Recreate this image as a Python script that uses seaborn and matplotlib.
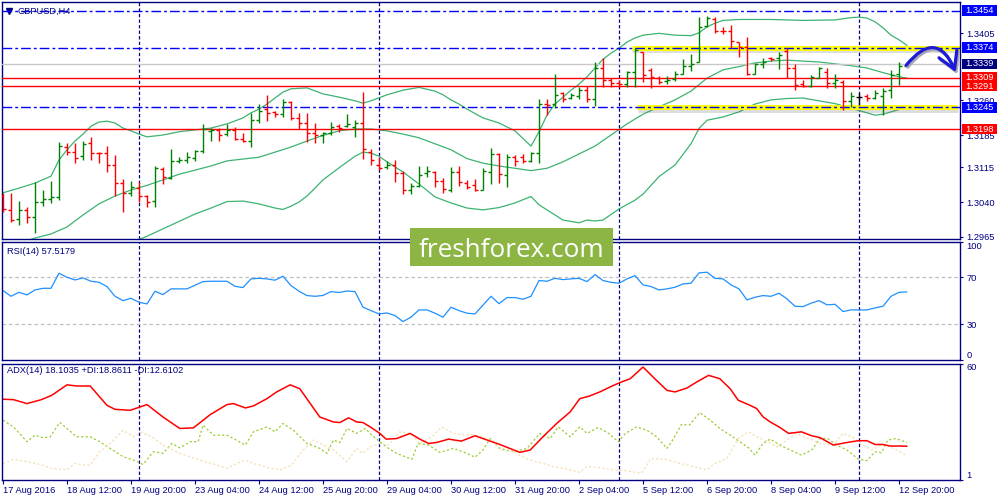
import matplotlib
matplotlib.use("Agg")
import matplotlib.pyplot as plt
import matplotlib.patheffects as pe
import matplotlib.transforms as mtransforms
from matplotlib.patches import FancyArrowPatch, Rectangle
import numpy as np
import pandas as pd
import seaborn as sns

# GBPUSD H4 bars, 17 Aug 2016 04:00 .. 13 Sep 2016 00:00
opens = [1.3052, 1.3023, 1.3003, 1.3023, 1.3008, 1.3041, 1.3047, 1.3050, 1.3160, 1.3149,
         1.3140, 1.3168, 1.3147, 1.3147, 1.3120, 1.3082, 1.3060, 1.3070, 1.3052, 1.3042,
         1.3111, 1.3093, 1.3128, 1.3132, 1.3135, 1.3151, 1.3194, 1.3196, 1.3187, 1.3196,
         1.3176, 1.3172, 1.3217, 1.3241, 1.3234, 1.3230, 1.3257, 1.3222, 1.3212, 1.3189,
         1.3185, 1.3190, 1.3204, 1.3205, 1.3203, 1.3210, 1.3149, 1.3120, 1.3115, 1.3120,
         1.3102, 1.3066, 1.3075, 1.3102, 1.3104, 1.3086, 1.3066, 1.3105, 1.3082, 1.3077,
         1.3066, 1.3104, 1.3144, 1.3099, 1.3138, 1.3138, 1.3129, 1.3145, 1.3253, 1.3252,
         1.3275, 1.3266, 1.3269, 1.3282, 1.3264, 1.3329, 1.3305, 1.3298, 1.3295, 1.3322,
         1.3364, 1.3326, 1.3309, 1.3302, 1.3306, 1.3318, 1.3335, 1.3344, 1.3421, 1.3437,
         1.3410, 1.3410, 1.3386, 1.3376, 1.3318, 1.3338, 1.3352, 1.3351, 1.3367, 1.3331,
         1.3295, 1.3292, 1.3309, 1.3322, 1.3297, 1.3300, 1.3259, 1.3267, 1.3269, 1.3266,
         1.3269, 1.3282, 1.3317, 1.3335]
highs = [1.3060, 1.3059, 1.3042, 1.3030, 1.3084, 1.3066, 1.3086, 1.3170, 1.3167, 1.3168,
         1.3173, 1.3180, 1.3149, 1.3161, 1.3142, 1.3089, 1.3086, 1.3084, 1.3055, 1.3119,
         1.3115, 1.3155, 1.3138, 1.3148, 1.3153, 1.3209, 1.3200, 1.3200, 1.3209, 1.3202,
         1.3190, 1.3233, 1.3252, 1.3272, 1.3237, 1.3263, 1.3259, 1.3232, 1.3232, 1.3211,
         1.3191, 1.3213, 1.3208, 1.3231, 1.3217, 1.3277, 1.3154, 1.3138, 1.3129, 1.3131,
         1.3108, 1.3082, 1.3118, 1.3118, 1.3108, 1.3093, 1.3116, 1.3118, 1.3088, 1.3090,
         1.3114, 1.3157, 1.3145, 1.3143, 1.3142, 1.3144, 1.3149, 1.3264, 1.3262, 1.3318,
         1.3279, 1.3275, 1.3289, 1.3291, 1.3344, 1.3351, 1.3308, 1.3304, 1.3323, 1.3374,
         1.3365, 1.3331, 1.3313, 1.3313, 1.3323, 1.3349, 1.3360, 1.3441, 1.3443, 1.3441,
         1.3419, 1.3422, 1.3387, 1.3398, 1.3340, 1.3351, 1.3354, 1.3364, 1.3373, 1.3339,
         1.3304, 1.3314, 1.3333, 1.3329, 1.3317, 1.3305, 1.3278, 1.3276, 1.3274, 1.3282,
         1.3286, 1.3326, 1.3344, 1.3343]
lows = [1.3019, 1.2997, 1.2990, 1.2995, 1.2974, 1.3031, 1.3037, 1.3044, 1.3142, 1.3124,
        1.3132, 1.3132, 1.3125, 1.3106, 1.3052, 1.3019, 1.3054, 1.3039, 1.3030, 1.3030,
        1.3079, 1.3089, 1.3125, 1.3125, 1.3129, 1.3146, 1.3173, 1.3173, 1.3183, 1.3174,
        1.3170, 1.3159, 1.3211, 1.3216, 1.3225, 1.3225, 1.3217, 1.3197, 1.3170, 1.3167,
        1.3167, 1.3185, 1.3192, 1.3202, 1.3180, 1.3133, 1.3120, 1.3109, 1.3111, 1.3083,
        1.3057, 1.3057, 1.3073, 1.3095, 1.3073, 1.3059, 1.3062, 1.3075, 1.3068, 1.3064,
        1.3065, 1.3079, 1.3081, 1.3073, 1.3119, 1.3125, 1.3126, 1.3125, 1.3228, 1.3243,
        1.3257, 1.3262, 1.3264, 1.3257, 1.3248, 1.3289, 1.3289, 1.3289, 1.3289, 1.3289,
        1.3300, 1.3287, 1.3295, 1.3295, 1.3302, 1.3316, 1.3324, 1.3342, 1.3418, 1.3405,
        1.3403, 1.3374, 1.3354, 1.3315, 1.3316, 1.3331, 1.3345, 1.3327, 1.3309, 1.3282,
        1.3289, 1.3289, 1.3308, 1.3286, 1.3287, 1.3239, 1.3245, 1.3250, 1.3259, 1.3262,
        1.3228, 1.3265, 1.3294, 1.3334]
closes = [1.3025, 1.3001, 1.3023, 1.3008, 1.3041, 1.3047, 1.3050, 1.3161, 1.3149, 1.3135,
          1.3165, 1.3147, 1.3145, 1.3120, 1.3082, 1.3060, 1.3072, 1.3052, 1.3041, 1.3114,
          1.3095, 1.3128, 1.3132, 1.3137, 1.3151, 1.3197, 1.3196, 1.3185, 1.3196, 1.3176,
          1.3172, 1.3217, 1.3238, 1.3233, 1.3230, 1.3257, 1.3222, 1.3212, 1.3190, 1.3185,
          1.3190, 1.3202, 1.3200, 1.3208, 1.3210, 1.3155, 1.3131, 1.3113, 1.3120, 1.3102,
          1.3066, 1.3075, 1.3099, 1.3108, 1.3086, 1.3068, 1.3105, 1.3083, 1.3073, 1.3066,
          1.3107, 1.3144, 1.3101, 1.3137, 1.3129, 1.3129, 1.3145, 1.3253, 1.3251, 1.3271,
          1.3264, 1.3271, 1.3282, 1.3264, 1.3329, 1.3305, 1.3297, 1.3295, 1.3322, 1.3369,
          1.3315, 1.3311, 1.3300, 1.3304, 1.3318, 1.3335, 1.3338, 1.3419, 1.3439, 1.3409,
          1.3409, 1.3388, 1.3376, 1.3316, 1.3338, 1.3344, 1.3349, 1.3358, 1.3331, 1.3293,
          1.3292, 1.3311, 1.3329, 1.3297, 1.3304, 1.3259, 1.3269, 1.3267, 1.3266, 1.3275,
          1.3280, 1.3315, 1.3335, 1.3339]

date_labels = ["17 Aug 2016", "18 Aug 12:00", "19 Aug 20:00", "23 Aug 04:00", "24 Aug 12:00",
               "25 Aug 20:00", "29 Aug 04:00", "30 Aug 12:00", "31 Aug 20:00", "2 Sep 04:00",
               "5 Sep 12:00", "6 Sep 20:00", "8 Sep 04:00", "9 Sep 12:00", "12 Sep 20:00"]
date_positions = [0, 8, 16, 24, 32, 40, 48, 56, 64, 72, 80, 88, 96, 104, 112]
week_starts = [17, 47, 77, 107]

# Bollinger bands (20)
upper_idx = [0, 2, 4, 6, 7, 8, 9, 10, 11, 12, 13, 14, 15, 16, 17, 18, 20, 22, 24, 26, 28, 30, 31,
             32, 33, 34, 35, 36, 38, 40, 42, 44, 45, 46, 48, 50, 52, 54, 55, 56, 57, 58, 60, 62,
             64, 66, 67, 68, 69, 70, 71, 72, 73, 74, 75, 76, 77, 78, 79, 80, 82, 84, 86, 87, 88,
             89, 90, 92, 96, 100, 104, 106, 107, 108, 109, 110, 111, 112, 113]
upper_val = [1.3060, 1.3070, 1.3081, 1.3096, 1.3131, 1.3153, 1.3172, 1.3187, 1.3204, 1.3213,
             1.3215, 1.3211, 1.3200, 1.3194, 1.3187, 1.3181, 1.3185, 1.3192, 1.3196, 1.3200,
             1.3209, 1.3222, 1.3233, 1.3241, 1.3252, 1.3265, 1.3278, 1.3285, 1.3287, 1.3274,
             1.3267, 1.3259, 1.3254, 1.3259, 1.3272, 1.3282, 1.3288, 1.3280, 1.3272, 1.3261,
             1.3252, 1.3241, 1.3222, 1.3211, 1.3194, 1.3161, 1.3192, 1.3228, 1.3252, 1.3267,
             1.3282, 1.3295, 1.3311, 1.3330, 1.3349, 1.3362, 1.3373, 1.3386, 1.3395, 1.3401,
             1.3405, 1.3401, 1.3400, 1.3406, 1.3419, 1.3427, 1.3433, 1.3435, 1.3435, 1.3433,
             1.3434, 1.3439, 1.3440, 1.3438, 1.3430, 1.3417, 1.3401, 1.3391, 1.3379]
mid_idx = [0, 2, 4, 6, 8, 10, 12, 14, 16, 18, 20, 22, 24, 26, 28, 30, 32, 34, 36, 38, 40, 42, 44,
           46, 48, 50, 52, 54, 56, 58, 60, 62, 64, 66, 68, 70, 72, 74, 76, 78, 80, 82, 84, 86, 88,
           90, 92, 94, 96, 98, 100, 102, 104, 106, 108, 110, 112, 113]
mid_val = [1.2943, 1.2951, 1.2962, 1.2971, 1.2986, 1.3012, 1.3036, 1.3053, 1.3066, 1.3076,
           1.3088, 1.3100, 1.3109, 1.3118, 1.3129, 1.3133, 1.3137, 1.3148, 1.3159, 1.3172,
           1.3184, 1.3194, 1.3198, 1.3198, 1.3194, 1.3187, 1.3179, 1.3166, 1.3153, 1.3134,
           1.3124, 1.3118, 1.3113, 1.3108, 1.3113, 1.3127, 1.3144, 1.3161, 1.3185, 1.3209,
           1.3230, 1.3246, 1.3261, 1.3280, 1.3308, 1.3326, 1.3333, 1.3341, 1.3345, 1.3347,
           1.3345, 1.3343, 1.3339, 1.3335, 1.3330, 1.3320, 1.3311, 1.3308]
lower_idx = [0, 4, 8, 12, 14, 16, 17, 18, 20, 22, 24, 26, 28, 30, 32, 34, 35, 36, 37, 38, 39, 40,
             42, 44, 45, 46, 47, 48, 50, 52, 54, 56, 58, 60, 62, 64, 66, 67, 68, 70, 72, 73, 74,
             75, 77, 79, 80, 82, 84, 86, 87, 88, 90, 92, 94, 96, 98, 100, 102, 104, 106, 108,
             109, 110, 111, 113]
lower_val = [1.2828, 1.2828, 1.2822, 1.2863, 1.2897, 1.2941, 1.2959, 1.2966, 1.2982, 1.2998,
             1.3014, 1.3027, 1.3041, 1.3042, 1.3036, 1.3027, 1.3024, 1.3031, 1.3040, 1.3053,
             1.3070, 1.3088, 1.3114, 1.3139, 1.3148, 1.3146, 1.3139, 1.3127, 1.3105, 1.3079,
             1.3051, 1.3038, 1.3027, 1.3023, 1.3028, 1.3038, 1.3052, 1.3034, 1.3023, 1.3001,
             1.2995, 1.3001, 1.2999, 1.3001, 1.3025, 1.3044, 1.3057, 1.3095, 1.3120, 1.3166,
             1.3199, 1.3217, 1.3224, 1.3235, 1.3252, 1.3261, 1.3264, 1.3265, 1.3259, 1.3253,
             1.3243, 1.3233, 1.3228, 1.3230, 1.3235, 1.3245]

blue_levels = [1.3454, 1.3374, 1.3245]
red_levels = [1.3309, 1.3291, 1.3198]
bid_price = 1.3339
price_ticks = [1.3405, 1.3260, 1.3185, 1.3115, 1.3040, 1.2965]

# marked zones and the drawn arrow
zone_levels = [1.3374, 1.3245]
zone_start = [78.6, 79.25]
zone_end = [119.7, 119.25]
arrow_tail = (112.9, 1.3336)
arrow_head = (119.1, 1.3321)

# RSI(14)
rsi_idx = [0, 1, 2, 3, 4, 5, 6, 7, 8, 9, 10, 11, 12, 13, 14, 15, 16, 17, 18, 19, 20, 21, 23, 25,
           26, 28, 29, 30, 31, 32, 33, 34, 35, 36, 37, 38, 39, 40, 41, 42, 43, 44, 45, 46, 47,
           48, 49, 50, 51, 52, 53, 54, 55, 56, 57, 58, 59, 61, 62, 63, 64, 65, 66, 67, 68, 69,
           70, 71, 72, 73, 74, 75, 76, 77, 78, 79, 80, 81, 82, 83, 84, 85, 86, 87, 88, 89, 90,
           91, 92, 93, 94, 95, 96, 97, 98, 99, 100, 101, 102, 103, 104, 105, 106, 107, 108,
           109, 110, 111, 112, 113]
rsi_val = [58.7, 53.8, 57.2, 55.0, 59.2, 60.6, 60.6, 73.4, 70.0, 67.7, 69.4, 66.6, 65.7, 62.1,
           53.8, 50.1, 52.1, 48.7, 47.3, 58.1, 55.2, 60.1, 60.1, 66.3, 66.6, 66.6, 62.3, 61.2,
           68.6, 69.1, 68.6, 67.5, 70.9, 62.9, 58.1, 54.4, 53.8, 54.5, 57.8, 57.0, 58.3, 57.8,
           44.5, 41.6, 38.8, 39.6, 37.4, 32.3, 36.0, 42.2, 42.2, 39.4, 36.0, 44.5, 41.6, 39.4,
           38.8, 53.8, 47.5, 52.7, 52.7, 51.3, 53.8, 67.2, 66.6, 69.1, 68.0, 68.6, 69.1, 66.3,
           72.3, 67.2, 65.7, 64.9, 68.6, 71.4, 63.5, 62.1, 59.2, 60.1, 61.5, 64.3, 64.9, 73.7,
           74.3, 69.1, 68.6, 63.5, 60.1, 50.7, 53.0, 54.4, 53.8, 56.4, 51.6, 45.3, 45.0, 47.9,
           50.1, 46.5, 47.0, 40.8, 42.2, 42.2, 42.2, 43.9, 45.3, 53.8, 57.2, 57.5]

# ADX(14) with +DI / -DI
adx_idx = [0, 1.3, 3, 4.8, 6.1, 8, 9.2, 10.9, 13, 14, 15.9, 18, 20, 22.1, 23.8, 25.9, 28, 28.8,
           30.3, 31.3, 33, 34.2, 35.9, 37.1, 39.6, 41.3, 42.1, 43.2, 44.2, 45, 45.9, 47.1, 47.9,
           49.2, 50.9, 52.1, 53.2, 54.2, 55.7, 57.3, 59, 60.9, 62.1, 64.6, 65.9, 67.5, 69.2,
           70.9, 72.1, 73.3, 74.6, 76.3, 77.1, 78.4, 80, 81.7, 83, 84, 85.5, 86.7, 88.2, 89.6,
           90.9, 91.9, 93.4, 94.2, 95, 95.9, 97, 98.2, 99.8, 101.1, 102.1, 103.8, 105.5, 106.9,
           108, 109, 110, 110.9, 112.1, 113]
adx_val = [41.9, 41.7, 39.7, 41.7, 43.9, 49.2, 48.6, 48.6, 38.8, 36.8, 36.3, 39.2, 32.9, 27.1,
           27.4, 34.1, 39.2, 39.7, 37.5, 38.5, 42.2, 45.6, 49.2, 47.2, 32.9, 30.4, 30.1, 32.5,
           30.4, 30.1, 27.9, 24.6, 21.7, 22.0, 24.6, 21.7, 19.5, 20.0, 21.7, 20.7, 23.4, 20.7,
           19.0, 15.0, 16.2, 22.9, 29.6, 35.5, 42.2, 43.5, 45.6, 48.9, 50.3, 52.3, 58.2, 51.4,
           46.4, 45.6, 47.6, 50.6, 54.0, 52.3, 47.2, 41.4, 38.8, 37.2, 33.0, 30.4, 27.9, 24.6,
           25.4, 23.4, 22.5, 18.7, 20.0, 20.9, 20.9, 19.0, 19.0, 18.2, 18.2, 18.1]
pdi_idx = [0, 1.3, 3, 4, 5, 5.9, 7.1, 8, 9.2, 10.9, 12.1, 13.4, 15, 16.3, 17.5, 18.8, 20, 21.1,
           22.1, 23.4, 24.4, 25, 26.3, 28, 28.8, 30.3, 31.3, 33, 34, 35, 36.3, 38, 39.6, 40.5,
           41.3, 42.1, 43, 44.2, 45.3, 46.1, 47.1, 48.2, 49.2, 51.1, 51.9, 53.2, 54.6, 56.3, 58,
           59, 60, 60.9, 62.1, 63.8, 65.5, 67.1, 68.4, 69.4, 70.9, 72.1, 73, 74.4, 75.7, 76.9,
           77.8, 79.2, 80.5, 81.7, 83, 83.7, 84.8, 85.8, 87.1, 88.4, 89.6, 90.9, 92.1, 93.2, 94,
           95, 95.9, 97.1, 98.4, 99.8, 101.1, 102.1, 103.1, 104.2, 105.5, 106.9, 108, 109,
           109.8, 110.6, 111.6, 113]
pdi_val = [31.3, 27.9, 20.4, 23.7, 22.4, 22.9, 30.1, 27.1, 22.9, 22.9, 20.4, 17.0, 12.8, 11.1,
           8.9, 15.3, 14.5, 19.5, 17.3, 20.4, 20.4, 28.8, 23.7, 23.7, 22.0, 18.7, 25.4, 27.9,
           25.4, 29.6, 26.2, 19.5, 17.0, 14.5, 21.2, 20.0, 27.1, 24.6, 27.1, 23.7, 20.4, 17.0,
           14.5, 11.5, 19.5, 18.7, 15.0, 17.0, 14.5, 12.5, 16.2, 22.0, 17.0, 15.3, 17.0, 24.6,
           22.0, 27.9, 22.9, 27.9, 24.6, 27.6, 24.6, 20.4, 24.6, 27.9, 26.2, 22.9, 17.0, 21.2,
           29.1, 28.8, 35.1, 31.3, 27.1, 23.7, 20.4, 17.3, 13.6, 19.5, 21.7, 18.7, 16.2, 13.6,
           16.2, 22.0, 22.0, 18.7, 16.2, 11.6, 10.8, 15.3, 14.8, 21.2, 22.0, 20.0]
mdi_idx = [0, 1.3, 3, 4.6, 6.1, 8, 9, 10, 10.9, 12.1, 13.4, 15, 16.3, 17.3, 18.6, 20, 22.1, 24.6,
           26.7, 28, 29.2, 30.3, 31.3, 33.4, 34.6, 36.1, 37.3, 38.8, 41.3, 43, 44.2, 45, 45.9,
           47.1, 48.2, 49.6, 50.9, 52.1, 53.8, 54.8, 56.3, 58, 58.8, 59.8, 61.3, 62.1, 63.8,
           65.5, 67.1, 68.8, 70.5, 72.1, 73, 74.6, 76.3, 78, 79.8, 81, 82.9, 84.6, 86.3, 88, 89,
           90.5, 91.9, 93.2, 94.2, 95.5, 96.7, 98, 99.2, 100.7, 102.1, 103.8, 105, 106.3, 107.5,
           108.6, 109.8, 110.9, 112.1, 113]
mdi_val = [9.4, 11.5, 10.3, 8.9, 6.9, 6.1, 9.4, 8.6, 8.6, 15.3, 19.5, 26.2, 22.9, 25.1, 22.9,
           18.7, 14.5, 11.1, 8.6, 6.9, 9.4, 11.1, 9.4, 6.9, 6.1, 8.6, 15.3, 21.2, 16.2, 10.3,
           17.0, 14.5, 17.8, 19.5, 18.7, 25.4, 24.6, 19.5, 23.4, 27.9, 24.6, 23.7, 24.0, 22.9,
           20.4, 16.2, 15.3, 11.6, 9.9, 7.8, 6.6, 4.9, 7.8, 7.3, 6.1, 5.6, 4.4, 11.9, 11.4, 9.4,
           7.8, 6.1, 9.4, 11.9, 22.0, 25.4, 22.9, 20.7, 17.8, 21.2, 24.6, 22.0, 19.5, 18.7, 24.6,
           22.4, 18.7, 16.2, 18.7, 17.8, 15.3, 13.3]

NAVY = "#000080"
GREEN = "#008000"
RED = "#ff0000"
BLUE = "#0000ff"
BAND = "#3cb371"
FS = 6.7

sns.set_theme(style="white")
plt.rcParams["font.family"] = ["Liberation Sans", "DejaVu Sans"]
plt.rcParams["lines.scale_dashes"] = False

W, H = 1000, 500
fig = plt.figure(figsize=(10, 5), dpi=100, facecolor="white")


def panel(top, bottom):
    return fig.add_axes([2 / W, 1 - bottom / H, 958 / W, (bottom - top) / H])


ax = panel(2, 239)
ax_rsi = panel(242, 359.5)
ax_adx = panel(363.5, 480)

for a in (ax, ax_rsi, ax_adx):
    a.set_facecolor("white")
    a.set_xlim(-0.125, 119.625)
    for s in a.spines.values():
        s.set_color(NAVY)
        s.set_linewidth(1)
    a.yaxis.tick_right()
    a.tick_params(axis="y", left=False, right=True, direction="out", length=2.5, width=0.8,
                  color=NAVY, labelcolor=NAVY, labelsize=FS, pad=2)
    a.tick_params(axis="x", bottom=False, labelbottom=False)
    for w in week_starts:
        a.axvline(w, color=NAVY, lw=0.9, dashes=(2.4, 1.6), zorder=1)

# ---- price panel ----
ax.set_ylim(1.29600, 1.34728)
for xs, ys in ((upper_idx, upper_val), (mid_idx, mid_val), (lower_idx, lower_val)):
    sns.lineplot(x=xs, y=ys, ax=ax, color=BAND, lw=0.9, estimator=None, sort=False, zorder=2)

for lvl, x0, x1 in zip(zone_levels, zone_start, zone_end):
    ax.plot([x0, x1], [lvl, lvl], color="#ffff00", lw=3.6, solid_capstyle="butt", zorder=2.5,
            path_effects=[pe.SimpleLineShadow(offset=(0.5, -1.8), shadow_color="#666666", alpha=0.22),
                          pe.Normal()])

ax.axhline(bid_price, color="#c8c8c8", lw=1, zorder=2.6)
for lvl in red_levels:
    ax.axhline(lvl, color=RED, lw=1, zorder=3)
for lvl in blue_levels:
    ax.axhline(lvl, color=BLUE, lw=1, dashes=(7, 2.2, 2, 2.2), zorder=3)

bars = pd.DataFrame({"o": opens, "h": highs, "l": lows, "c": closes})
bars["i"] = np.arange(len(bars))
colors = np.where(bars.c > bars.o, GREEN, np.where(bars.c < bars.o, RED, "black"))
ax.vlines(bars.i, bars.l, bars.h, colors=colors, lw=1.0, zorder=4)
ax.hlines(bars.o, bars.i - 0.38, bars.i, colors=colors, lw=1.0, zorder=4)
ax.hlines(bars.c, bars.i, bars.i + 0.38, colors=colors, lw=1.0, zorder=4)

ax.set_yticks(price_ticks)
ax.set_yticklabels([f"{p:.4f}" for p in price_ticks])
ax.set_xlabel("")
ax.set_ylabel("")

# price tags on the scale
trans = mtransforms.blended_transform_factory(ax.transAxes, ax.transData)
box_h = 10.5 * (1.34728 - 1.29600) / 237
tags = [(l, RED) for l in red_levels] + [(l, BLUE) for l in blue_levels] + [(bid_price, NAVY)]
for price, fc in tags:
    ax.add_patch(Rectangle((1.0021, price - box_h / 2), 0.0366, box_h, transform=trans,
                           fc=fc, ec=fc, lw=0, clip_on=False, zorder=8))
    ax.text(1.0050, price, f"{price:.4f}", transform=trans, color="white", fontsize=FS,
            va="center", ha="left", clip_on=False, zorder=9)

ax.plot([0.0073], [0.962], marker="v", ms=4, color=NAVY, transform=ax.transAxes, clip_on=False)
ax.text(0.0167, 0.962, "GBPUSD,H4", transform=ax.transAxes, color=NAVY, fontsize=FS,
        va="center", ha="left")

# hand-drawn style arrow
shadow_tr = mtransforms.offset_copy(ax.transData, fig=fig, x=1.5, y=-2, units="dots")
for tr, col, z in ((shadow_tr, "#a8a8b4", 6), (ax.transData, "#1c1cd8", 7)):
    ax.add_patch(FancyArrowPatch(arrow_tail, arrow_head, transform=tr,
                                 connectionstyle="arc3,rad=-0.82",
                                 arrowstyle="->,head_length=0.6,head_width=0.35",
                                 mutation_scale=20, color=col, lw=2.3, shrinkA=0, shrinkB=0,
                                 clip_on=False, zorder=z))

# ---- RSI panel ----
ax_rsi.set_ylim(0, 100)
for lv in (70, 30):
    ax_rsi.axhline(lv, color="#c0c0c0", lw=0.9, dashes=(2.6, 2))
sns.lineplot(x=rsi_idx, y=rsi_val, ax=ax_rsi, color="#1e90ff", lw=0.9, estimator=None, sort=False)
ax_rsi.set_yticks([100, 70, 30, 0])
ax_rsi.set_yticklabels(["100", "70", "30", "0"])
ax_rsi.get_yticklabels()[0].set_va("top")
ax_rsi.get_yticklabels()[3].set_va("bottom")
ax_rsi.set_xlabel("")
ax_rsi.set_ylabel("")
ax_rsi.text(0.0057, 0.915, "RSI(14) 57.5179", transform=ax_rsi.transAxes, color=NAVY,
            fontsize=FS, va="center", ha="left")

# ---- ADX panel ----
ax_adx.set_ylim(1, 60)
sns.lineplot(x=pdi_idx, y=pdi_val, ax=ax_adx, color="#9acd32", lw=0.9, estimator=None,
             sort=False, linestyle=(0, (1.6, 1.6)))
sns.lineplot(x=mdi_idx, y=mdi_val, ax=ax_adx, color="#f5deb3", lw=0.9, estimator=None,
             sort=False, linestyle=(0, (1.6, 1.6)))
sns.lineplot(x=adx_idx, y=adx_val, ax=ax_adx, color=RED, lw=1.1, estimator=None, sort=False)
ax_adx.set_yticks([60, 1])
ax_adx.set_yticklabels(["60", "1"])
ax_adx.get_yticklabels()[0].set_va("top")
ax_adx.get_yticklabels()[1].set_va("bottom")
ax_adx.set_xticks(date_positions)
ax_adx.set_xticklabels(date_labels, ha="left")
ax_adx.tick_params(axis="x", bottom=True, labelbottom=True, direction="out", length=3,
                   width=0.8, color=NAVY, labelcolor=NAVY, labelsize=FS, pad=1.5)
ax_adx.set_xlabel("")
ax_adx.set_ylabel("")
ax_adx.text(0.0057, 0.944, "ADX(14) 18.1035 +DI:18.8611 -DI:12.6102", transform=ax_adx.transAxes,
            color=NAVY, fontsize=FS, va="center", ha="left")

# watermark
fig.add_artist(Rectangle((410 / W, 1 - 266 / H), 203 / W, 38 / H, transform=fig.transFigure,
                         fc="#8db543", ec="none", zorder=10))
fig.text(511.5 / W, 1 - 257 / H, "freshforex.com", color="white", fontsize=18.8,
         family="Open Sans", ha="center", va="baseline", zorder=11)

fig.savefig("out.png", dpi=100, facecolor="white")
